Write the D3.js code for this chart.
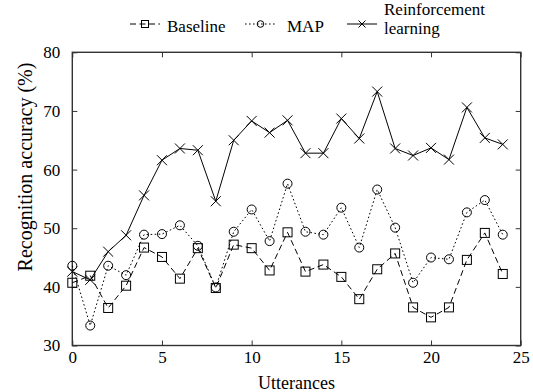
<!DOCTYPE html>
<html><head><meta charset="utf-8">
<script src="https://cdn.jsdelivr.net/npm/d3@7"></script>
</head><body style="margin:0"><svg id="c" width="533" height="392"></svg>
<script>
const utterances = d3.range(0, 25);
const baseline = [40.7,41.9,36.4,40.2,46.7,45.1,41.4,46.6,39.8,47.2,46.6,42.8,49.3,42.6,43.8,41.7,37.9,43.0,45.7,36.5,34.8,36.5,44.6,49.2,42.2];
const mapVals = [43.6,33.4,43.6,42.0,48.9,49.0,50.5,47.0,39.9,49.4,53.2,47.8,57.6,49.4,48.9,53.5,46.7,56.6,50.1,40.7,45.0,44.7,52.7,54.8,48.9];
const rl = [42.6,41.2,46.0,48.8,55.6,61.6,63.6,63.3,54.6,65.0,68.3,66.3,68.4,62.8,62.8,68.7,65.3,73.3,63.6,62.4,63.7,61.7,70.6,65.4,64.3];
const xTicks = [0,5,10,15,20,25];
const yTicks = [30,40,50,60,70,80];
const seriesNames = ["Baseline","MAP","Reinforcement learning"];

const svg = d3.select("#c");
const L=72.3, R=520.7, T=52.3, B=345.5;
const x = d3.scaleLinear().domain([0,25]).range([L,R]);
const y = d3.scaleLinear().domain([30,80]).range([B,T]);

function setFont(sel, size) {
  sel.style("font-family","'Liberation Serif'").style("font-size",size+"px").each(function(){
    this.getComputedTextLength(); getComputedStyle(this).fontFamily;
  });
  return sel;
}

// titles first
setFont(svg.append("text").attr("transform","translate(25,167) rotate(-90)").attr("dy","0.35em").attr("text-anchor","middle").text("Recognition accuracy (%)"), 20);
setFont(svg.append("text").attr("x",(L+R)/2).attr("y",389).attr("text-anchor","middle").text("Utterances"), 18);

const series = [
  {name:seriesNames[0], vals:baseline, dash:"6,3.5", marker:"square"},
  {name:seriesNames[1], vals:mapVals, dash:"1.6,2.4", marker:"circle"},
  {name:seriesNames[2], vals:rl, dash:null, marker:"x"}
];

function drawMarker(g, type, cx, cy, s) {
  if (type==="square") g.append("rect").attr("x",cx-s).attr("y",cy-s).attr("width",2*s).attr("height",2*s).attr("fill","none").attr("stroke","#000").attr("stroke-width",1);
  else if (type==="circle") g.append("circle").attr("cx",cx).attr("cy",cy).attr("r",s).attr("fill","none").attr("stroke","#000").attr("stroke-width",1);
  else { g.append("path").attr("d",`M${cx-s},${cy-s}L${cx+s},${cy+s}M${cx-s},${cy+s}L${cx+s},${cy-s}`).attr("stroke","#000").attr("stroke-width",1).attr("fill","none"); }
}

// legend
const lg = svg.append("g");
const legendItems = [
  {s:series[0], x0:130, x1:160, tx:167, ty:31.5, lines:["Baseline"]},
  {s:series[1], x0:245, x1:276, tx:287, ty:31.5, lines:["MAP"]},
  {s:series[2], x0:347, x1:377, tx:384, ty:15, lines:["Reinforcement","learning"]}
];
legendItems.forEach(it=>{
  it.lines.forEach((ln,k)=>{
    setFont(lg.append("text").attr("x",it.tx).attr("y",it.ty+k*18.5).text(ln), 17);
  });
  const cy = 24;
  const l = lg.append("line").attr("x1",it.x0).attr("x2",it.x1).attr("y1",cy).attr("y2",cy).attr("stroke","#000").attr("stroke-width",1);
  if (it.s.dash) l.attr("stroke-dasharray",it.s.dash);
  drawMarker(lg,it.s.marker,(it.x0+it.x1)/2,cy,it.s.marker==="circle"?3.3:3.5);
});

const axisCol="#333";
svg.append("rect").attr("x",L).attr("y",T).attr("width",R-L).attr("height",B-T).attr("fill","none").attr("stroke",axisCol).attr("stroke-width",1.4);

const xAx = svg.append("g").attr("transform",`translate(0,${B})`).call(d3.axisBottom(x).tickValues(xTicks).tickSize(-5).tickPadding(5).tickFormat(d3.format("d")));
const xAxT = svg.append("g").attr("transform",`translate(0,${T})`).call(d3.axisTop(x).tickValues(xTicks).tickSize(-5).tickFormat(""));
const yAx = svg.append("g").attr("transform",`translate(${L},0)`).call(d3.axisLeft(y).tickValues(yTicks).tickSize(-5).tickPadding(12).tickFormat(d3.format("d")));
const yAxR = svg.append("g").attr("transform",`translate(${R},0)`).call(d3.axisRight(y).tickValues(yTicks).tickSize(-5).tickFormat(""));
[xAx,xAxT,yAx,yAxR].forEach(a=>{
  a.attr("font-family",null).attr("font-size",null);
  a.select(".domain").remove(); a.selectAll("line").attr("stroke",axisCol).attr("stroke-width",1);
  setFont(a.selectAll("text"), 17).attr("fill","#000");});

const plot = svg.append("g");
series.forEach(s=>{
  const line = d3.line().x((d,i)=>x(utterances[i])).y(d=>y(d));
  const p = plot.append("path").datum(s.vals).attr("d",line).attr("fill","none").attr("stroke","#000").attr("stroke-width",1);
  if (s.dash) p.attr("stroke-dasharray",s.dash);
  const sz = s.marker==="circle"?4.5:(s.marker==="square"?4.5:5);
  s.vals.forEach((v,i)=>drawMarker(plot,s.marker,x(utterances[i]),y(v),sz));
});

if (document.fonts && document.fonts.load) {
  document.fonts.load("17px 'Liberation Serif'").then(()=>{
    svg.selectAll("text").each(function(){ const f=this.style.fontFamily; this.style.fontFamily=""; this.getBBox(); this.style.fontFamily=f; });
  });
}
</script></body></html>
